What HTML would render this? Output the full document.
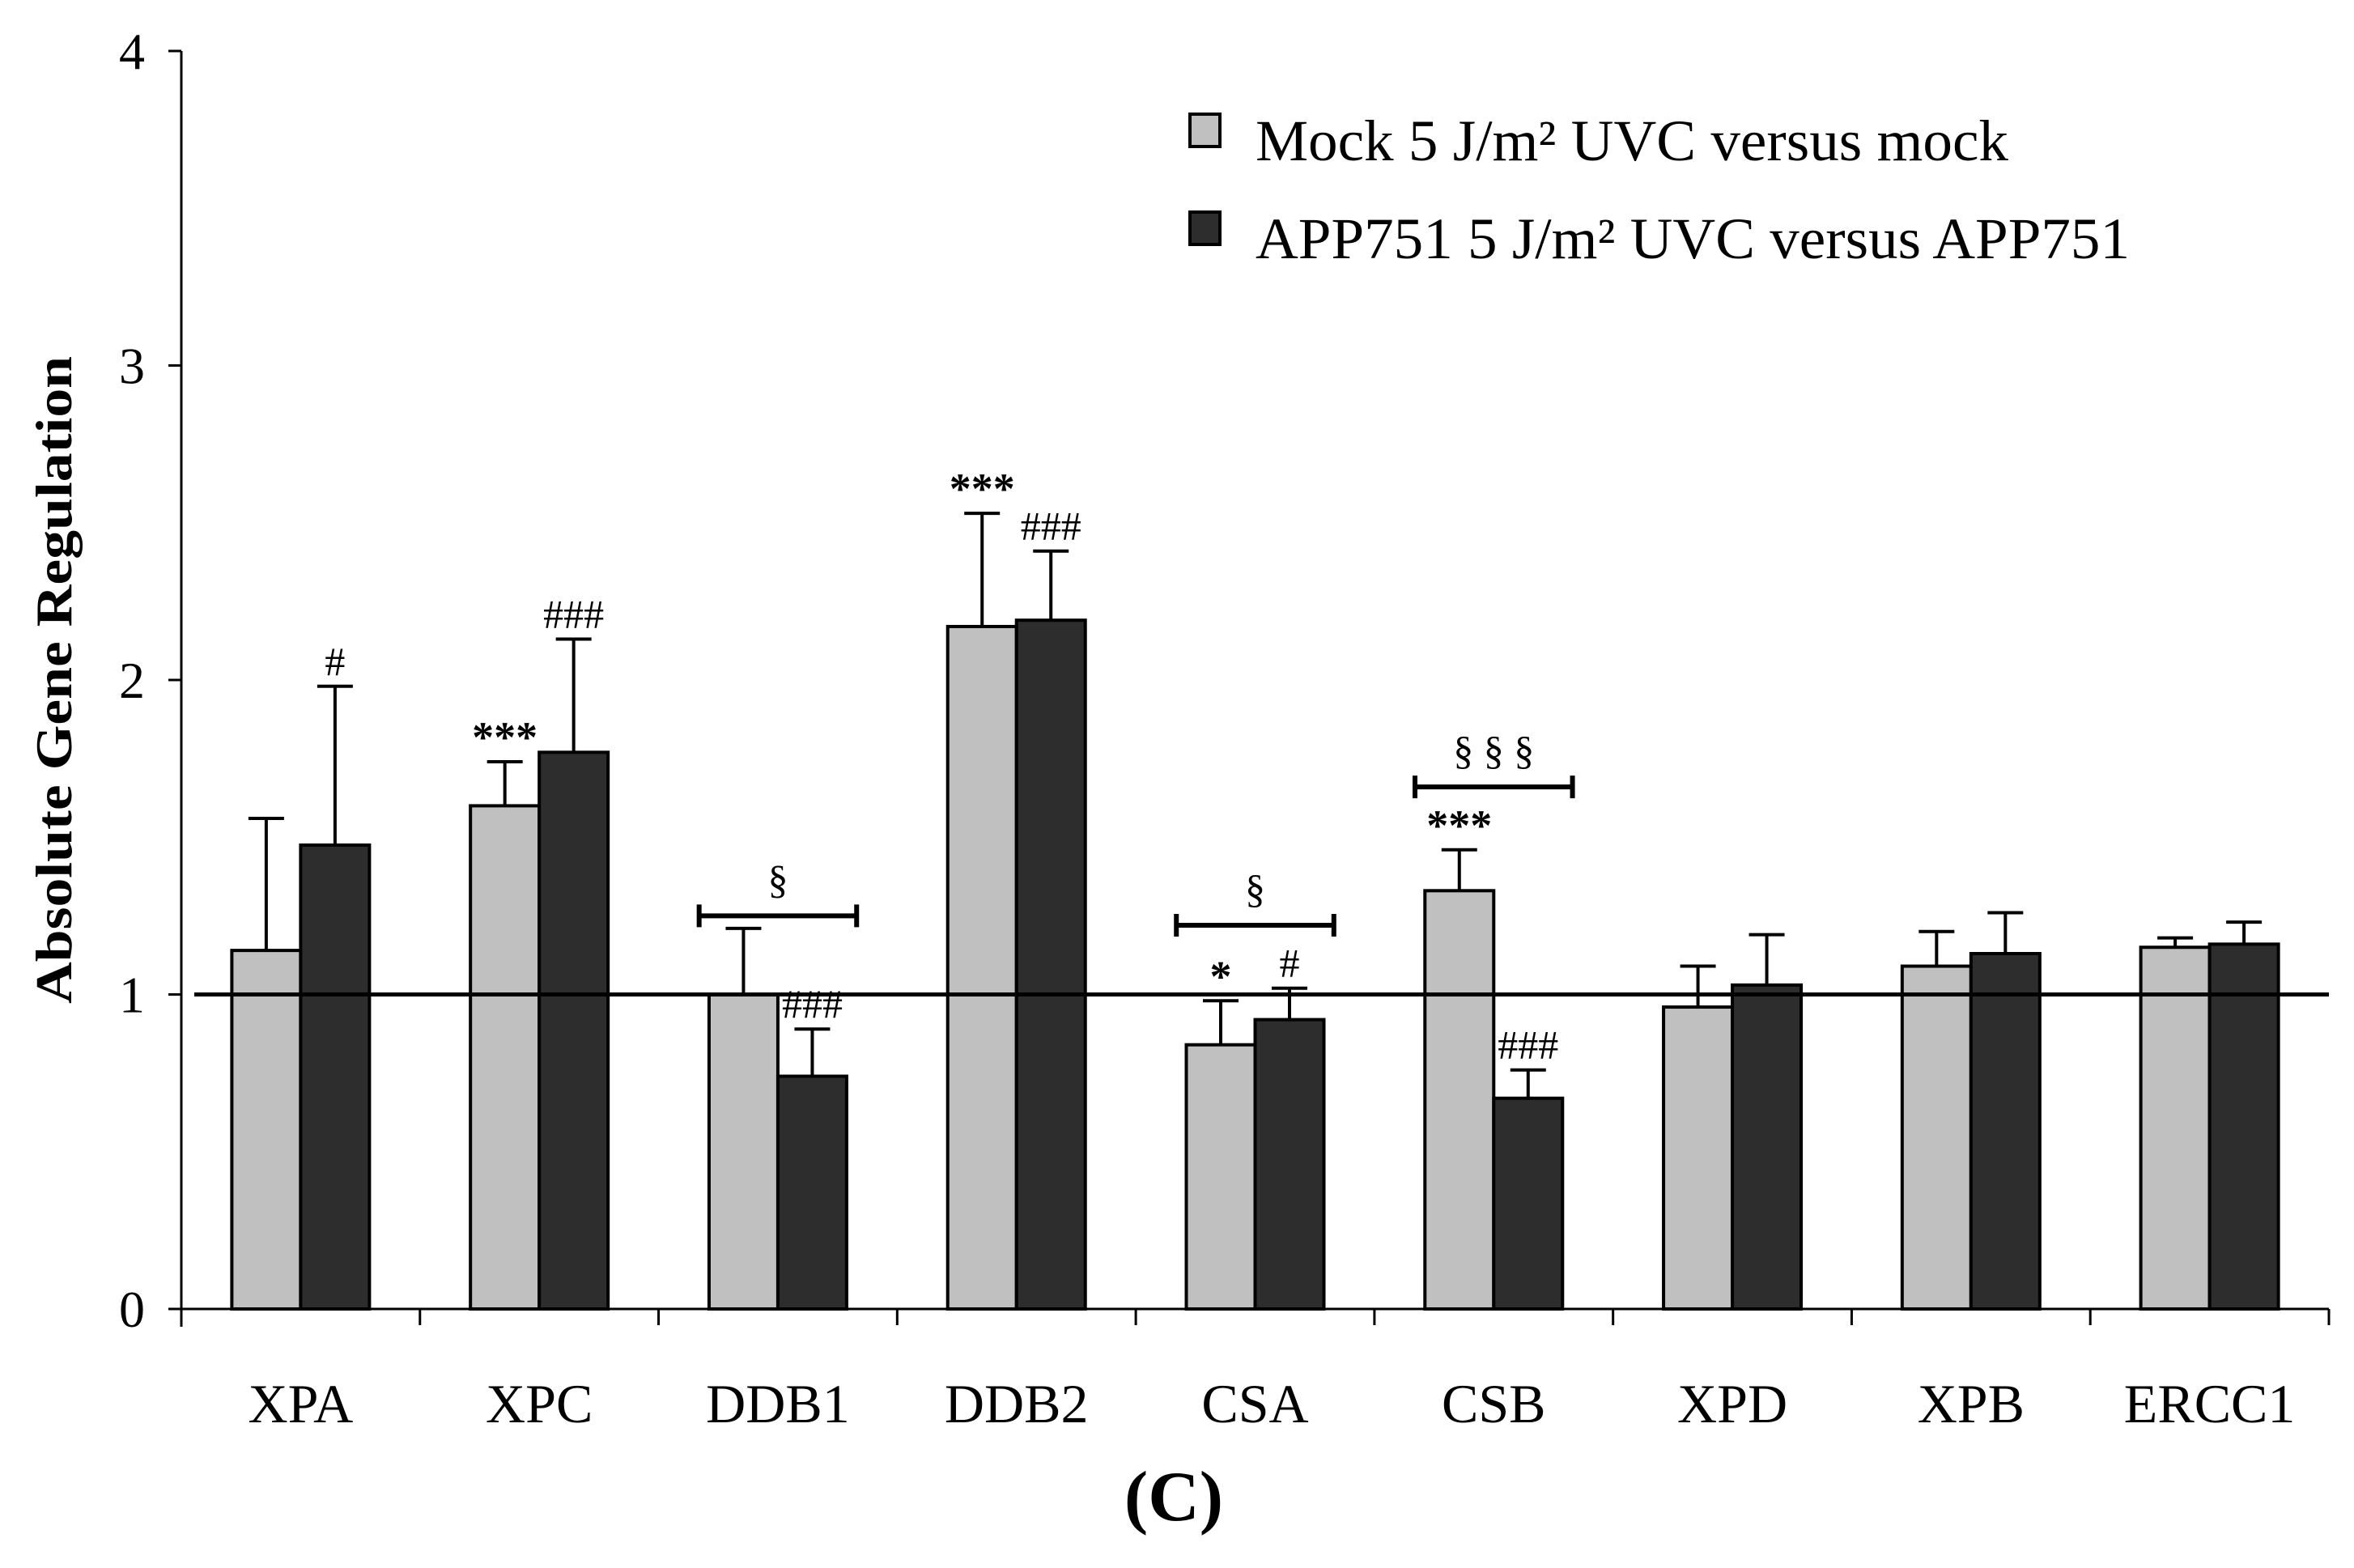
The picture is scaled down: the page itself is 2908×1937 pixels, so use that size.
<!DOCTYPE html>
<html><head><meta charset="utf-8"><style>
html,body{margin:0;padding:0;background:#fff}
svg{display:block}
text{font-family:"Liberation Serif",serif;fill:#000}
</style></head><body>
<svg id="chart" width="2908" height="1937" viewBox="0 0 2908 1937" xmlns="http://www.w3.org/2000/svg"></svg>
<script>
const categories=["XPA","XPC","DDB1","DDB2","CSA","CSB","XPD","XPB","ERCC1"];
const mockValues=[1.14,1.60,1.00,2.17,0.84,1.33,0.96,1.09,1.15];
const mockErr=[1.56,1.74,1.21,2.53,0.98,1.46,1.09,1.20,1.18];
const appValues=[1.475,1.77,0.74,2.19,0.92,0.67,1.03,1.13,1.16];
const appErr=[1.98,2.13,0.89,2.41,1.02,0.76,1.19,1.26,1.23];
const mockMarks=["","***","","***","*","***","","",""];
const appMarks=["#","###","###","###","#","###","","",""];
const brackets=[{cat:2,label:"§",y:1.25},{cat:4,label:"§",y:1.22},{cat:5,label:"§ § §",y:1.66}];
const yTicks=[0,1,2,3,4];
const legendLabels=["Mock 5 J/m² UVC versus mock","APP751 5 J/m² UVC versus APP751"];

const svg=document.getElementById('chart');
const NS="http://www.w3.org/2000/svg";
const X0=224,X1=2877,Y0=1617,UNIT=388.5;
const GW=(X1-X0)/categories.length, BW=85;
const y=v=>Y0-v*UNIT;
const cx=i=>X0+GW*(i+0.5);
function el(tag,attrs,txt){const e=document.createElementNS(NS,tag);for(const k in attrs)e.setAttribute(k,attrs[k]);if(txt!==undefined)e.textContent=txt;svg.appendChild(e);return e;}

let a=el('line',{x1:X0,y1:y(4),x2:X0,y2:Y0+22,stroke:'#000','stroke-width':3});


a=el('line',{x1:X0,y1:Y0,x2:X1,y2:Y0,stroke:'#000','stroke-width':3});


yTicks.forEach(t=>{
  const l=el('line',{x1:X0-16,y1:y(t),x2:X0,y2:y(t),stroke:'#000','stroke-width':3});
  
  
  const tx=el('text',{x:X0-45,y:y(t)+22,'text-anchor':'end','font-size':64},String(t));
  
  
});
for(let i=0;i<=categories.length;i++){
  const l=el('line',{x1:X0+GW*i,y1:Y0,x2:X0+GW*i,y2:Y0+20,stroke:'#000','stroke-width':3});
  
  
}
categories.forEach((c,i)=>{
  const t=el('text',{x:cx(i),y:1757,'text-anchor':'middle','font-size':68},c);
  
  
});
function bar(i,v,e,fill,left,name){
  const x=left?cx(i)-BW:cx(i);
  const r=el('rect',{x:x,y:y(v),width:BW,height:Y0-y(v),fill:fill,stroke:'#000','stroke-width':4});
  
  
  const mx=x+BW/2;
  const l=el('line',{x1:mx,y1:y(v),x2:mx,y2:y(e),stroke:'#000','stroke-width':4});
  
  
  const c=el('line',{x1:mx-22,y1:y(e),x2:mx+22,y2:y(e),stroke:'#000','stroke-width':4});
  
  
}
categories.forEach((c,i)=>{
  bar(i,mockValues[i],mockErr[i],'#c0c0c0',true,'bar-mock-'+c.toLowerCase());
  bar(i,appValues[i],appErr[i],'#2d2d2d',false,'bar-app751-'+c.toLowerCase());
  if(mockMarks[i]){
    const t=el('text',{x:cx(i)-BW/2,y:y(mockErr[i])-12,'text-anchor':'middle','font-size':54,'font-weight':'bold'},mockMarks[i]);
    
    
  }
  if(appMarks[i]){
    const t=el('text',{x:cx(i)+BW/2,y:y(appErr[i])-14,'text-anchor':'middle','font-size':50},appMarks[i]);
    
    
  }
});
const ref=el('line',{x1:240,y1:y(1),x2:X1,y2:y(1),stroke:'#000','stroke-width':5});


brackets.forEach(b=>{
  const x1=cx(b.cat)-GW*0.33,x2=cx(b.cat)+GW*0.33,yy=y(b.y);
  const g=el('path',{d:`M${x1},${yy-14}V${yy+14}M${x1},${yy}H${x2}M${x2},${yy-14}V${yy+14}`,stroke:'#000','stroke-width':6,fill:'none'});
  
  
  const t=el('text',{x:cx(b.cat),y:yy-28,'text-anchor':'middle','font-size':50},b.label);
  
  
});
const lf=['#c0c0c0','#2d2d2d'];
const lw=[930,1080];
legendLabels.forEach((lab,i)=>{
  const yy=141+i*121;
  const r=el('rect',{x:1470,y:yy,width:37,height:40,fill:lf[i],stroke:'#000','stroke-width':4});
  
  
  const t=el('text',{x:1551,y:yy+57,'font-size':72,textLength:lw[i],lengthAdjust:'spacingAndGlyphs'},lab);
  
  
});
const yt=el('text',{x:0,y:0,'font-size':64,'font-weight':'bold','text-anchor':'middle',textLength:800,lengthAdjust:'spacingAndGlyphs',transform:'translate(88,840) rotate(-90)'},'Absolute Gene Regulation');


const pt=el('text',{x:1450,y:1878,'font-size':88,'font-weight':'bold','text-anchor':'middle'},'(C)');


</script>
</body></html>
